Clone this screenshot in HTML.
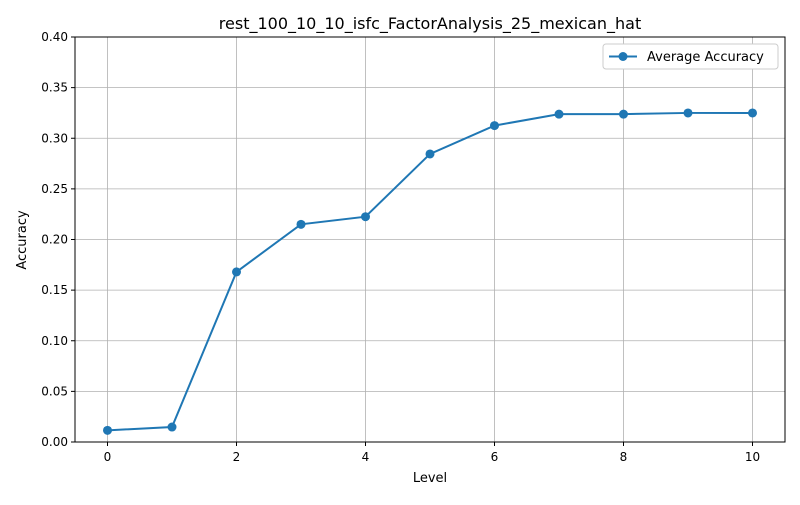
<!DOCTYPE html>
<html><head><meta charset="utf-8"><style>
body{margin:0;background:#fff;}
svg text{font-family:"DejaVu Sans","Liberation Sans",sans-serif;fill:#000;}
</style></head><body>
<svg id="chart" width="800" height="500" xmlns="http://www.w3.org/2000/svg">
<rect width="800" height="500" fill="#fff"/>
<g id="grid"></g>
<g id="axes"></g>
<g id="series"></g>
<text x="430" y="29" text-anchor="middle" font-size="16">rest_100_10_10_isfc_FactorAnalysis_25_mexican_hat</text>
<text x="430" y="482" text-anchor="middle" font-size="13">Level</text>
<text x="26" y="240" text-anchor="middle" font-size="13" transform="rotate(-90 26 240)">Accuracy</text>
<g>
<rect x="603" y="44" width="175" height="25" fill="#fff" stroke="#ccc" rx="3"/>
<line x1="609" y1="56.5" x2="637" y2="56.5" stroke="#1f77b4" stroke-width="2"/>
<circle cx="623" cy="56.5" r="4.5" fill="#1f77b4"/>
<text x="647" y="61" font-size="13">Average Accuracy</text>
</g>
</svg>
<script>
const levels=[0,1,2,3,4,5,6,7,8,9,10];
const accuracy=[0.0115,0.0148,0.168,0.215,0.2225,0.2845,0.3125,0.3238,0.3238,0.325,0.325];
const xTicks=[0,2,4,6,8,10];
const yTicks=[0,0.05,0.10,0.15,0.20,0.25,0.30,0.35,0.40];
const L=75,R=785,T=37,B=442;
const xs=v=>107.5+v*64.5;
const ys=v=>B-(v/0.4)*(B-T);
const NS="http://www.w3.org/2000/svg";
function mk(tag,attrs,parent){const e=document.createElementNS(NS,tag);for(const k in attrs)e.setAttribute(k,attrs[k]);parent.appendChild(e);return e;}
const grid=document.getElementById('grid'),axes=document.getElementById('axes'),ser=document.getElementById('series');
xTicks.forEach(t=>{
 const g=mk('line',{x1:xs(t),x2:xs(t),y1:T,y2:B,stroke:'#b0b0b0','stroke-width':0.8},grid);
 
 
 mk('line',{x1:xs(t),x2:xs(t),y1:B,y2:B+4,stroke:'#000'},axes);
 const tx=mk('text',{x:xs(t),y:B+19,'text-anchor':'middle','font-size':12},axes);tx.textContent=t;
 
 
});
yTicks.forEach(t=>{
 const g=mk('line',{x1:L,x2:R,y1:ys(t),y2:ys(t),stroke:'#b0b0b0','stroke-width':0.8},grid);
 
 
 mk('line',{x1:L-4,x2:L,y1:ys(t),y2:ys(t),stroke:'#000'},axes);
 const tx=mk('text',{x:L-7,y:ys(t)+4,'text-anchor':'end','font-size':12},axes);tx.textContent=t.toFixed(2);
 
 
});
const frame=mk('rect',{x:L,y:T,width:R-L,height:B-T,fill:'none',stroke:'#000','stroke-width':1},axes);


const pl=mk('polyline',{points:levels.map((l,i)=>xs(l)+','+ys(accuracy[i])).join(' '),fill:'none',stroke:'#1f77b4','stroke-width':2},ser);


levels.forEach((l,i)=>{
 const c=mk('circle',{cx:xs(l),cy:ys(accuracy[i]),r:4.5,fill:'#1f77b4'},ser);
 
 
});
</script>
</body></html>
